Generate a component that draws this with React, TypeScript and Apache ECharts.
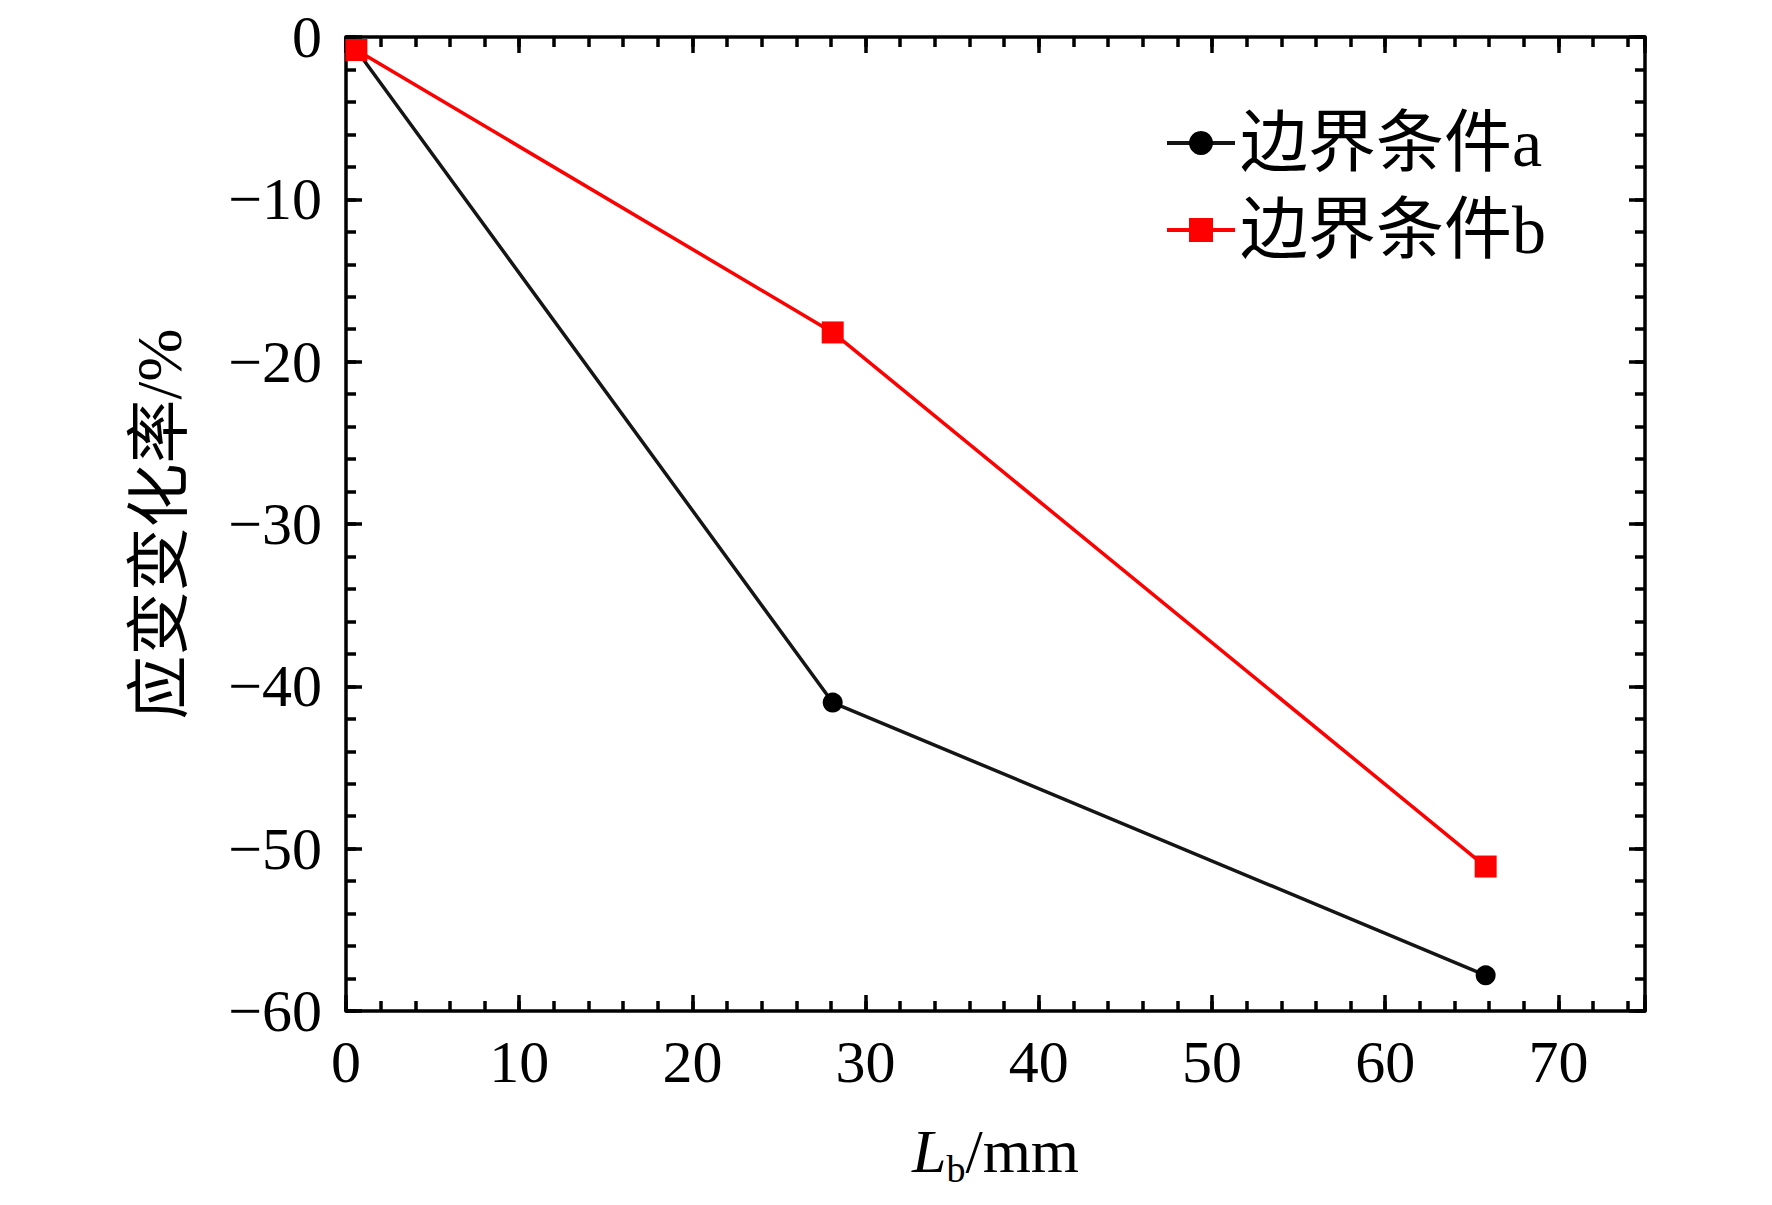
import { useEffect, useRef } from 'react';
import * as echarts from 'echarts';

// values
const seriesNames = ['边界条件a', '边界条件b'];
const lengthsMm = [0.6, 28.1, 65.8];
const strainA = [-0.8, -41.0, -57.8];
const strainB = [-0.8, -18.2, -51.1];

const xTicks = { min: 0, max: 75, major: 10, minor: 2 };
const yTicks = { min: -60, max: 0, major: 10, minor: 2 };

const SERIF = '"Liberation Serif", "Times New Roman", "Noto Sans CJK SC", serif';
const minus = (v: number) => String(v).replace('-', '\u2212');

export default function App() {
  const chartRef = useRef<HTMLDivElement | null>(null);

  useEffect(() => {
    if (!chartRef.current) {
      return;
    }
    const chart = echarts.init(chartRef.current, null, { renderer: 'svg' });
    // onZero off everywhere, otherwise the helper axes jump to the zero line
    const axisLine = { show: true, onZero: false, lineStyle: { color: '#000', width: 3.5 } };
    const noLine = { show: false, onZero: false };
    const hidden = { show: false };

    const xBase = { type: 'value' as const, min: xTicks.min, max: xTicks.max, splitLine: hidden };
    const yBase = { type: 'value' as const, min: yTicks.min, max: yTicks.max, splitLine: hidden };
    const majorTick = { show: true, inside: true, length: 16, lineStyle: { color: '#000', width: 3.5 } };
    const minorTick = { show: true, inside: true, length: 10, lineStyle: { color: '#000', width: 3.5 } };

    chart.setOption({
      animation: false,
      backgroundColor: '#fff',
      grid: { left: 346, top: 37, right: 127, bottom: 194, containLabel: false },
      legend: {
        orient: 'vertical',
        left: 1160,
        top: 104,
        itemWidth: 68,
        itemHeight: 30,
        itemGap: 19,
        lineStyle: { width: 4 },
        textStyle: { fontFamily: SERIF, fontSize: 68, color: '#000' },
        data: seriesNames,
      },
      xAxis: [
        {
          ...xBase,
          position: 'bottom',
          interval: xTicks.major,
          axisLine,
          axisTick: majorTick,
          axisLabel: {
            margin: 21,
            fontFamily: SERIF,
            fontSize: 60,
            color: '#000',
            formatter: (v: number) => (v === xTicks.max ? '' : minus(v)),
          },
          name: '{i|L}{s|b}/mm',
          nameLocation: 'middle',
          nameGap: 103,
          nameTextStyle: {
            fontFamily: SERIF,
            fontSize: 62,
            color: '#000',
            rich: {
              i: { fontFamily: SERIF, fontSize: 62, fontStyle: 'italic', color: '#000' },
              s: { fontFamily: SERIF, fontSize: 38, color: '#000', padding: [36, 0, 0, 0] },
            },
          },
        },
        { ...xBase, position: 'bottom', interval: xTicks.minor, axisLine: noLine, axisTick: minorTick, axisLabel: hidden },
        { ...xBase, position: 'top', interval: xTicks.major, axisLine, axisTick: majorTick, axisLabel: hidden },
        { ...xBase, position: 'top', interval: xTicks.minor, axisLine: noLine, axisTick: minorTick, axisLabel: hidden },
      ],
      yAxis: [
        {
          ...yBase,
          position: 'left',
          interval: yTicks.major,
          axisLine,
          axisTick: majorTick,
          axisLabel: { margin: 24, fontFamily: SERIF, fontSize: 60, color: '#000', formatter: minus },
          name: '应变变化率/%',
          nameLocation: 'middle',
          nameRotate: 90,
          nameGap: 155,
          nameTextStyle: { fontFamily: SERIF, fontSize: 64, color: '#000' },
        },
        { ...yBase, position: 'left', interval: yTicks.minor, axisLine: noLine, axisTick: minorTick, axisLabel: hidden },
        { ...yBase, position: 'right', interval: yTicks.major, axisLine, axisTick: majorTick, axisLabel: hidden },
        { ...yBase, position: 'right', interval: yTicks.minor, axisLine: noLine, axisTick: minorTick, axisLabel: hidden },
      ],
      series: [
        {
          name: seriesNames[0],
          type: 'line',
          data: lengthsMm.map((x, i) => [x, strainA[i]]),
          symbol: 'circle',
          symbolSize: 20,
          lineStyle: { color: '#151515', width: 3.5 },
          itemStyle: { color: '#000' },
        },
        {
          name: seriesNames[1],
          type: 'line',
          data: lengthsMm.map((x, i) => [x, strainB[i]]),
          symbol: 'rect',
          symbolSize: 22,
          lineStyle: { color: '#ff0000', width: 3.5 },
          itemStyle: { color: '#ff0000' },
        },
      ],
    });

    return () => chart.dispose();
  }, []);

  return <div ref={chartRef} style={{ position: 'fixed', left: 0, top: 0, width: 1772, height: 1205 }} />;
}
